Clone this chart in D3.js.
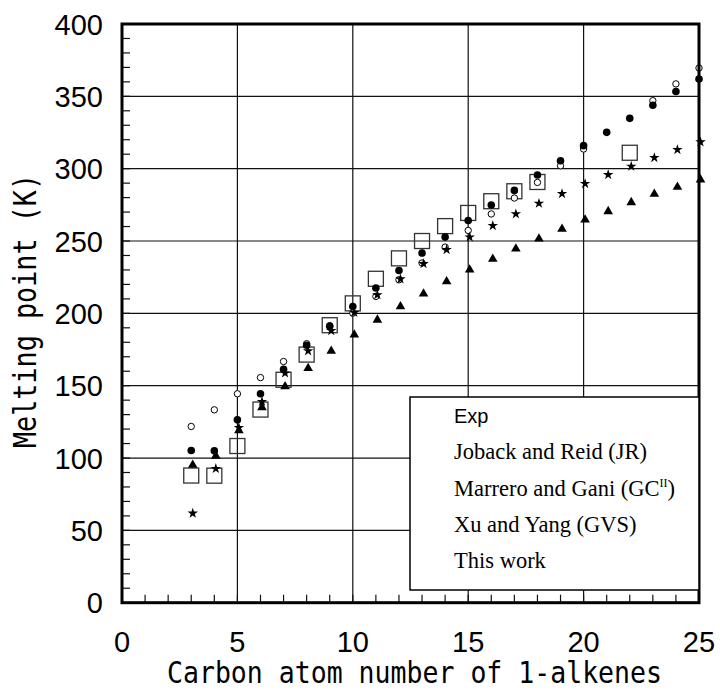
<!DOCTYPE html>
<meta charset="utf-8">
<script src="https://d3js.org/d3.v7.min.js"></script>
<style>
  body { margin: 0; background: #fff; }
  text { fill: #000; }
</style>
<body>
<div id="viz"></div>
<script>
// ---- data (carbon number vs melting point, K) ----
const expN   = [3, 4, 5, 6, 7, 8, 9, 10, 11, 12, 13, 14, 15, 16, 17, 18, 22];
const expT   = [87.9, 87.8, 108.3, 133.5, 154.1, 171.5, 191.8, 206.9, 223.9, 238.0, 250.0, 260.3, 269.4, 277.5, 284.4, 290.8, 311.0];

const jrN    = [3, 4, 5, 6, 7, 8, 9, 10, 11, 12, 13, 14, 15, 16, 17, 18, 19, 20, 21, 22, 23, 24, 25];
const jrT    = [95.2, 101.5, 119.0, 135.0, 149.4, 162.0, 174.0, 185.2, 195.5, 204.7, 213.5, 222.0, 230.1, 237.5, 244.7, 251.6, 258.3, 264.7, 270.5, 276.7, 282.5, 287.3, 292.4];

const mgN    = [3, 4, 5, 6, 7, 8, 9, 10, 11, 12, 13, 14, 15, 16, 17, 18, 19, 20, 21, 22, 23, 24, 25];
const mgT    = [61.8, 92.7, 121.0, 139.0, 158.7, 174.0, 188.0, 200.5, 212.8, 223.7, 234.3, 244.0, 252.7, 260.6, 268.7, 276.0, 282.7, 289.6, 295.8, 301.6, 307.6, 313.1, 318.4];

const xyN    = [3, 4, 5, 6, 7, 8, 9, 10, 11, 12, 13, 14, 15, 16, 17, 18, 19, 20, 23, 24, 25];
const xyT    = [121.8, 133.3, 144.4, 155.6, 166.7, 179.0, 191.5, 200.2, 211.7, 223.2, 234.8, 245.8, 257.3, 268.7, 279.7, 290.5, 302.0, 313.6, 347.0, 358.6, 369.6];

const twN    = [3, 4, 5, 6, 7, 8, 9, 10, 11, 12, 13, 14, 15, 16, 17, 18, 19, 20, 21, 22, 23, 24, 25];
const twT    = [105.2, 105.0, 126.4, 144.4, 161.4, 178.0, 191.0, 204.7, 217.5, 229.6, 241.7, 252.7, 264.2, 274.9, 285.0, 295.6, 305.5, 315.9, 325.1, 334.8, 343.8, 353.3, 362.0];

const xTicks = [0, 5, 10, 15, 20, 25];
const yTicks = [0, 50, 100, 150, 200, 250, 300, 350, 400];
const legendLabels = ["Exp", "Joback and Reid (JR)", "Marrero and Gani (GC", "Xu and Yang (GVS)", "This work"];

// ---- layout ----
const W = 720, H = 695;
const pLeft = 122, pRight = 699, pTop = 24, pBottom = 602.7;

const svg = d3.select("#viz").append("svg")
    .attr("width", W).attr("height", H);

const x = d3.scaleLinear().domain([0, 25]).range([pLeft, pRight]);
const y = d3.scaleLinear().domain([0, 400]).range([pBottom, pTop]);

// grid
const grid = svg.append("g").attr("stroke", "#111").attr("stroke-width", 1.2);
grid.selectAll("line.gx").data(xTicks.slice(1, -1)).join("line")
    .attr("x1", d => x(d)).attr("x2", d => x(d))
    .attr("y1", pTop).attr("y2", pBottom);
grid.selectAll("line.gy").data(yTicks.slice(1, -1)).join("line")
    .attr("x1", pLeft).attr("x2", pRight)
    .attr("y1", d => y(d)).attr("y2", d => y(d));

// minor ticks (inside)
const minor = svg.append("g").attr("stroke", "#111").attr("stroke-width", 1.2);
minor.selectAll("line.mx").data(d3.range(1, 25)).join("line")
    .attr("x1", d => x(d)).attr("x2", d => x(d))
    .attr("y1", pBottom).attr("y2", pBottom - 8);
minor.selectAll("line.my").data(d3.range(10, 400, 10)).join("line")
    .attr("x1", pLeft).attr("x2", pLeft + 8)
    .attr("y1", d => y(d)).attr("y2", d => y(d));

// tick labels
svg.append("g").selectAll("text").data(xTicks).join("text")
    .attr("x", d => x(d)).attr("y", 652)
    .attr("text-anchor", "middle")
    .style("font", "29px 'Liberation Sans', Arial, sans-serif")
    .text(d => d);
svg.append("g").selectAll("text").data(yTicks).join("text")
    .attr("x", 103).attr("y", d => y(d) + 10.5)
    .attr("text-anchor", "end")
    .style("font", "29px 'Liberation Sans', Arial, sans-serif")
    .text(d => d);

// axis titles (narrow monospace)
svg.append("text")
    .attr("x", 167).attr("y", 683)
    .attr("textLength", 495).attr("lengthAdjust", "spacingAndGlyphs")
    .style("font", "30px 'DejaVu Sans Mono', monospace")
    .text("Carbon atom number of 1-alkenes");
svg.append("text")
    .attr("transform", "translate(36,448) rotate(-90)")
    .attr("textLength", 274).attr("lengthAdjust", "spacingAndGlyphs")
    .style("font", "32px 'DejaVu Sans Mono', monospace")
    .text("Melting point (K)");

// markers
const pts = svg.append("g");
const pairs = (n, t) => n.map((d, i) => [d, t[i]]);

pts.append("g").selectAll("rect").data(pairs(expN, expT)).join("rect")
    .attr("x", d => x(d[0]) - 7.5).attr("y", d => y(d[1]) - 7.5)
    .attr("width", 15).attr("height", 15)
    .attr("fill", "none").attr("stroke", "#333").attr("stroke-width", 1.3);

pts.append("g").selectAll("circle").data(pairs(xyN, xyT)).join("circle")
    .attr("cx", d => x(d[0])).attr("cy", d => y(d[1])).attr("r", 3.2)
    .attr("fill", "#fff").attr("stroke", "#000").attr("stroke-width", 1);

pts.append("g").selectAll("circle").data(pairs(twN, twT)).join("circle")
    .attr("cx", d => x(d[0])).attr("cy", d => y(d[1])).attr("r", 3.8)
    .attr("fill", "#000");

const tri = d3.symbol().type(d3.symbolTriangle).size(40);
pts.append("g").selectAll("path").data(pairs(jrN, jrT)).join("path")
    .attr("transform", d => `translate(${x(d[0]) + 1.5},${y(d[1])})`)
    .attr("d", tri).attr("fill", "#000");

const star = d3.symbol().type(d3.symbolStar).size(34);
pts.append("g").selectAll("path").data(pairs(mgN, mgT)).join("path")
    .attr("transform", d => `translate(${x(d[0]) + 1.5},${y(d[1])})`)
    .attr("d", star).attr("fill", "#000");

// frame
svg.append("rect")
    .attr("x", pLeft).attr("y", pTop)
    .attr("width", pRight - pLeft).attr("height", pBottom - pTop)
    .attr("fill", "none").attr("stroke", "#000").attr("stroke-width", 3);

// legend
const lg = svg.append("g");
lg.append("rect")
    .attr("x", 410).attr("y", 397).attr("width", 289).attr("height", 193)
    .attr("fill", "#fff").attr("stroke", "#000").attr("stroke-width", 1.5);
lg.selectAll("text").data(legendLabels).join("text")
    .attr("x", 454).attr("y", (d, i) => 423 + i * 36.3)
    .style("font", (d, i) => i === 0 ? "20px 'Liberation Sans', Arial, sans-serif"
                                     : "22.5px 'Liberation Serif', 'Times New Roman', serif")
    .each(function(d, i) {
        const t = d3.select(this);
        t.append("tspan").text(d);
        if (i === 2) {
            t.append("tspan").attr("dy", -9).style("font-size", "12px").text("II");
            t.append("tspan").attr("dy", 9).text(")");
        }
    });
</script>
</body>
